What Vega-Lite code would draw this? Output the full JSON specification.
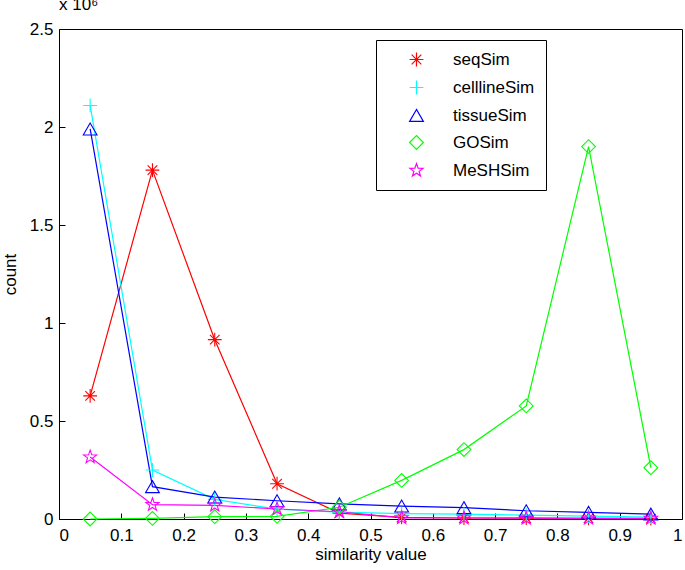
{
  "$schema": "https://vega.github.io/schema/vega-lite/v6.json",
  "width": 623,
  "height": 490,
  "autosize": {"type": "none"},
  "padding": {"left": 59, "top": 29, "right": 3, "bottom": 51},
  "background": "white",
  "title": {"text": "x 10⁶", "anchor": "start", "frame": "group", "fontSize": 17, "fontWeight": "normal", "color": "black", "offset": 6},
  "data": {"values": [
    {"similarity": 0.05, "series": "seqSim", "millions": 0.628},
    {"similarity": 0.15, "series": "seqSim", "millions": 1.78},
    {"similarity": 0.25, "series": "seqSim", "millions": 0.915},
    {"similarity": 0.35, "series": "seqSim", "millions": 0.18},
    {"similarity": 0.45, "series": "seqSim", "millions": 0.03},
    {"similarity": 0.55, "series": "seqSim", "millions": 0.008},
    {"similarity": 0.65, "series": "seqSim", "millions": 0.005},
    {"similarity": 0.75, "series": "seqSim", "millions": 0.004},
    {"similarity": 0.85, "series": "seqSim", "millions": 0.003},
    {"similarity": 0.95, "series": "seqSim", "millions": 0.002},
    {"similarity": 0.05, "series": "celllineSim", "millions": 2.11},
    {"similarity": 0.15, "series": "celllineSim", "millions": 0.25},
    {"similarity": 0.25, "series": "celllineSim", "millions": 0.1},
    {"similarity": 0.35, "series": "celllineSim", "millions": 0.05},
    {"similarity": 0.45, "series": "celllineSim", "millions": 0.035},
    {"similarity": 0.55, "series": "celllineSim", "millions": 0.027},
    {"similarity": 0.65, "series": "celllineSim", "millions": 0.025},
    {"similarity": 0.75, "series": "celllineSim", "millions": 0.02},
    {"similarity": 0.85, "series": "celllineSim", "millions": 0.015},
    {"similarity": 0.95, "series": "celllineSim", "millions": 0.01},
    {"similarity": 0.05, "series": "tissueSim", "millions": 1.99},
    {"similarity": 0.15, "series": "tissueSim", "millions": 0.165},
    {"similarity": 0.25, "series": "tissueSim", "millions": 0.112},
    {"similarity": 0.35, "series": "tissueSim", "millions": 0.093},
    {"similarity": 0.45, "series": "tissueSim", "millions": 0.077},
    {"similarity": 0.55, "series": "tissueSim", "millions": 0.066},
    {"similarity": 0.65, "series": "tissueSim", "millions": 0.058},
    {"similarity": 0.75, "series": "tissueSim", "millions": 0.042},
    {"similarity": 0.85, "series": "tissueSim", "millions": 0.034},
    {"similarity": 0.95, "series": "tissueSim", "millions": 0.025},
    {"similarity": 0.05, "series": "GOSim", "millions": 0},
    {"similarity": 0.15, "series": "GOSim", "millions": 0.003},
    {"similarity": 0.25, "series": "GOSim", "millions": 0.012},
    {"similarity": 0.35, "series": "GOSim", "millions": 0.013},
    {"similarity": 0.45, "series": "GOSim", "millions": 0.06},
    {"similarity": 0.55, "series": "GOSim", "millions": 0.197},
    {"similarity": 0.65, "series": "GOSim", "millions": 0.354},
    {"similarity": 0.75, "series": "GOSim", "millions": 0.577},
    {"similarity": 0.85, "series": "GOSim", "millions": 1.9},
    {"similarity": 0.95, "series": "GOSim", "millions": 0.262},
    {"similarity": 0.05, "series": "MeSHSim", "millions": 0.316},
    {"similarity": 0.15, "series": "MeSHSim", "millions": 0.073},
    {"similarity": 0.25, "series": "MeSHSim", "millions": 0.07},
    {"similarity": 0.35, "series": "MeSHSim", "millions": 0.051},
    {"similarity": 0.45, "series": "MeSHSim", "millions": 0.037},
    {"similarity": 0.55, "series": "MeSHSim", "millions": 0.006},
    {"similarity": 0.65, "series": "MeSHSim", "millions": 0.005},
    {"similarity": 0.75, "series": "MeSHSim", "millions": 0.004},
    {"similarity": 0.85, "series": "MeSHSim", "millions": 0.003},
    {"similarity": 0.95, "series": "MeSHSim", "millions": 0.003}
  ]},
  "encoding": {
    "x": {"field": "similarity", "type": "quantitative", "scale": {"domain": [0, 1], "nice": false},
      "axis": {"offset": -6, "domain": false, "values": [0, 0.1, 0.2, 0.3, 0.4, 0.5, 0.6, 0.7, 0.8, 0.9, 1], "format": "~g", "title": "similarity value", "labelPadding": 8, "titlePadding": 3}},
    "y": {"field": "millions", "type": "quantitative", "scale": {"domain": [0, 2.5], "nice": false},
      "axis": {"offset": -6, "domain": false, "values": [0, 0.5, 1, 1.5, 2, 2.5], "format": "~g", "title": "count", "labelPadding": 6, "titlePadding": 10}}
  },
  "layer": [
    {"transform": [{"filter": {"field": "series", "equal": "seqSim"}}], "mark": {"type": "line", "color": "#ff0000", "strokeWidth": 1.2}, "encoding": {}},
    {"transform": [{"filter": {"field": "series", "equal": "celllineSim"}}], "mark": {"type": "line", "color": "#00ffff", "strokeWidth": 1.2}, "encoding": {}},
    {"transform": [{"filter": {"field": "series", "equal": "tissueSim"}}], "mark": {"type": "line", "color": "#0000ff", "strokeWidth": 1.2}, "encoding": {}},
    {"transform": [{"filter": {"field": "series", "equal": "GOSim"}}], "mark": {"type": "line", "color": "#00ff00", "strokeWidth": 1.2}, "encoding": {}},
    {"transform": [{"filter": {"field": "series", "equal": "MeSHSim"}}], "mark": {"type": "line", "color": "#ff00ff", "strokeWidth": 1.2}, "encoding": {}},
    {
      "mark": {"type": "point", "filled": false, "strokeWidth": 1.1, "size": 190, "opacity": 1},
      "encoding": {
        "color": {"field": "series", "type": "nominal",
          "scale": {"domain": ["seqSim", "celllineSim", "tissueSim", "GOSim", "MeSHSim"], "range": ["#ff0000", "#00ffff", "#0000ff", "#00ff00", "#ff00ff"]},
          "legend": {
            "orient": "none", "legendX": 317, "legendY": 11, "title": null,
            "strokeColor": "black", "fillColor": "white", "padding": 11,
            "labelFontSize": 17, "labelColor": "black",
            "symbolSize": 190, "symbolStrokeWidth": 1.2, "symbolOffset": 21, "labelOffset": 28, "rowPadding": 9
          }
        },
        "shape": {"field": "series", "type": "nominal",
          "scale": {"domain": ["seqSim", "celllineSim", "tissueSim", "GOSim", "MeSHSim"],
            "range": ["M-1,0H1M0,-1V1M-0.7,-0.7L0.7,0.7M-0.7,0.7L0.7,-0.7", "M-1,0H1M0,-1V1", "triangle-up", "diamond", "M0,-1L0.235,-0.324L0.951,-0.309L0.38,0.124L0.588,0.809L0,0.4L-0.588,0.809L-0.38,0.124L-0.951,-0.309L-0.235,-0.324Z"]}}
      }
    }
  ],
  "config": {
    "font": "Liberation Sans",
    "view": {"stroke": "black", "strokeWidth": 1},
    "axis": {"grid": false, "tickColor": "black", "tickSize": 6, "labelColor": "black", "titleColor": "black", "labelFontSize": 17, "titleFontSize": 17, "titleFontWeight": "normal"}
  }
}
